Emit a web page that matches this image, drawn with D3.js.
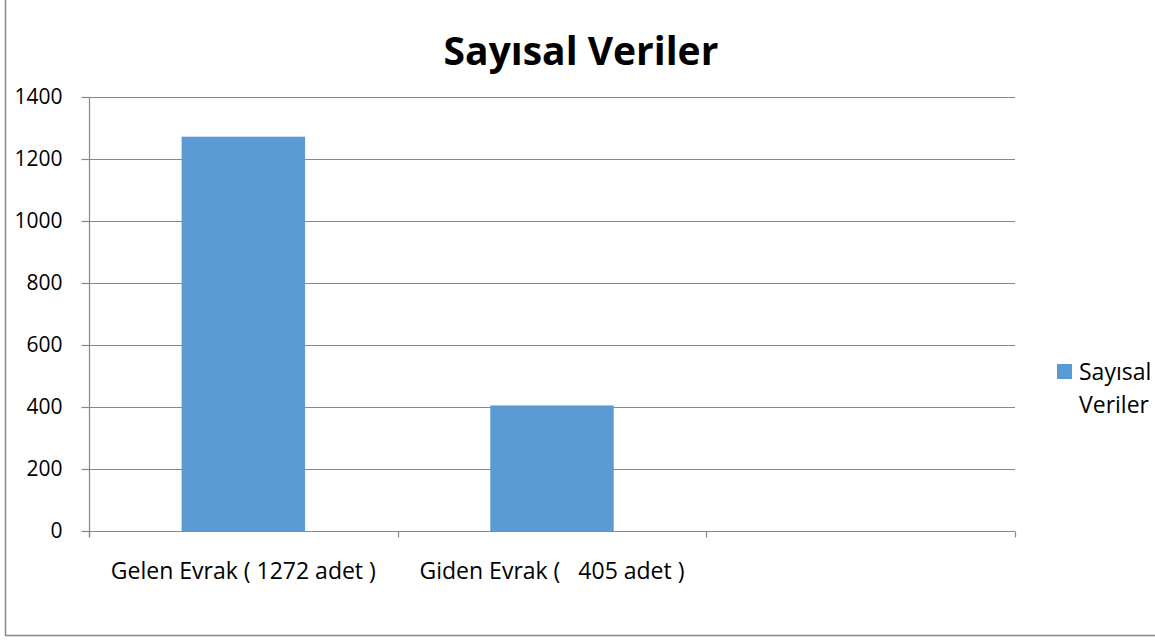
<!DOCTYPE html>
<html>
<head>
<meta charset="utf-8">
<script src="https://cdn.jsdelivr.net/npm/d3@7"></script>
<style>
  body { margin: 0; background: #fff; }
  text { font-family: "Open Sans", sans-serif; fill: #000; }
</style>
</head>
<body>
<svg id="drawing_region"></svg>
<script>
// chart data
const categories = ['Gelen Evrak ( 1272 adet )', 'Giden Evrak (   405 adet )', ' '];
const values = [1272, 405, null];
const yticks = [0, 200, 400, 600, 800, 1000, 1200, 1400];
const title = 'Sayısal Veriler';
const seriesName = ['Sayısal', 'Veriler'];

const config = {
    width: 1155,
    height: 641,
    margin: {top: 97, right: 140, bottom: 110, left: 89}
};

const svg = d3.select('#drawing_region')
    .attr('width', config.width)
    .attr('height', config.height);

// outer frame (top and right edges fall outside the picture)
svg.append('rect')
    .attr('x', 5.5).attr('y', -10)
    .attr('width', 1170).attr('height', 645.5)
    .attr('fill', 'none')
    .attr('stroke', '#888')
    .attr('stroke-width', 1.5);

const inner_width = 1015 - config.margin.left;
const inner_height = 531 - config.margin.top;

const chart = svg.append('g')
    .attr('transform', `translate(${config.margin.left}, ${config.margin.top})`);

const xscale = d3.scaleBand()
    .domain(categories)
    .range([0, inner_width])
    .padding(0);

const yscale = d3.scaleLinear()
    .domain([0, 1400])
    .range([inner_height, 0]);

// grid lines
chart.selectAll('.grid')
    .data(yticks)
    .enter()
    .append('line')
    .attr('x1', 0).attr('x2', inner_width)
    .attr('y1', d => Math.round(yscale(d)) + 0.5)
    .attr('y2', d => Math.round(yscale(d)) + 0.5)
    .attr('stroke', '#888')
    .attr('stroke-width', 1.2);

// bars
const data = categories.map((c, i) => ({cat: c, value: values[i]}))
    .filter(d => d.value != null);

chart.selectAll('.bar')
    .data(data)
    .enter()
    .append('rect')
    .attr('x', d => xscale(d.cat) + xscale.bandwidth() * 0.3)
    .attr('width', xscale.bandwidth() * 0.4)
    .attr('y', d => yscale(d.value))
    .attr('height', d => inner_height - yscale(d.value))
    .attr('fill', '#5B9BD5');

// y axis
const yaxis = d3.axisLeft(yscale)
    .tickValues(yticks)
    .tickFormat(d3.format('d'))
    .tickSize(8)
    .tickPadding(19);

const yaxis_group = chart.append('g')
    .attr('transform', 'translate(0.5, 0)')
    .call(yaxis);
yaxis_group.selectAll('line').attr('stroke', '#888').attr('stroke-width', 1.2);
yaxis_group.select('.domain').attr('stroke', '#888').attr('stroke-width', 1.2)
    .attr('d', `M0,${inner_height + 6}V0`);
yaxis_group.selectAll('text')
    .attr('font-size', 21)
    .attr('font-family', '"Open Sans", sans-serif');

// x axis
const xaxis_group = chart.append('g')
    .attr('transform', `translate(0, ${inner_height + 0.5})`);

xaxis_group.selectAll('.xtick')
    .data(d3.range(categories.length + 1))
    .enter()
    .append('line')
    .attr('x1', i => Math.round(i * xscale.step()) + 0.5)
    .attr('x2', i => Math.round(i * xscale.step()) + 0.5)
    .attr('y1', 0).attr('y2', 6)
    .attr('stroke', '#888')
    .attr('stroke-width', 1.2);

xaxis_group.selectAll('.xlabel')
    .data(categories)
    .enter()
    .append('text')
    .attr('x', d => xscale(d) + xscale.bandwidth() / 2)
    .attr('y', 47)
    .attr('text-anchor', 'middle')
    .attr('font-size', 23)
    .style('white-space', 'pre')
    .text(d => d);

// title
svg.append('text')
    .attr('x', 581)
    .attr('y', 65)
    .attr('text-anchor', 'middle')
    .attr('font-size', 39)
    .attr('font-weight', 'bold')
    .text(title);

// legend
const legend = svg.append('g');
legend.append('rect')
    .attr('x', 1057).attr('y', 364)
    .attr('width', 15).attr('height', 15)
    .attr('fill', '#5B9BD5');
legend.selectAll('.ltext')
    .data(seriesName)
    .enter()
    .append('text')
    .attr('x', 1079)
    .attr('y', (d, i) => 380 + i * 33)
    .attr('font-size', 23)
    .text(d => d);
</script>
</body>
</html>
